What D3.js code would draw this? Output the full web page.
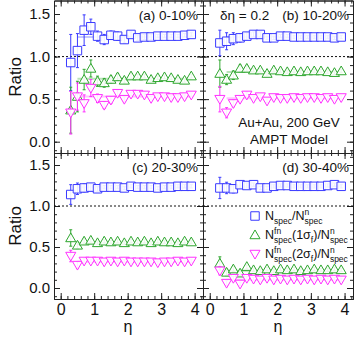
<!DOCTYPE html>
<html>
<head>
<meta charset="utf-8">
<script src="https://cdn.jsdelivr.net/npm/d3@7"></script>
<style>
  body { margin: 0; background: #fff; }
  svg { display: block; font-family: "Liberation Sans", Arial, Helvetica, sans-serif; }
</style>
</head>
<body>
<svg id="chart" width="357" height="341"></svg>
<script>
// eta bins (bin width 0.2)
var eta = [0.3, 0.5, 0.7, 0.9, 1.1, 1.3, 1.5, 1.7, 1.9, 2.1, 2.3, 2.5, 2.7, 2.9, 3.1, 3.3, 3.5, 3.7, 3.9];

// (a) 0-10%
var aSq    = [0.93, 1.07, 1.31, 1.35, 1.24, 1.20, 1.25, 1.24, 1.20, 1.26, 1.22, 1.23, 1.23, 1.24, 1.24, 1.24, 1.24, 1.25, 1.26];
var aSqErr = [0.33, 0.20, 0.18, 0.09, 0.06, 0.06, 0.05, 0.05, 0.04, 0.03, 0.03, 0.03, 0.03, 0.02, 0.02, 0.02, 0.02, 0.02, 0.02];
var aUp    = [0.37, 0.53, 0.73, 0.86, 0.71, 0.69, 0.73, 0.76, 0.72, 0.77, 0.77, 0.77, 0.73, 0.75, 0.76, 0.75, 0.73, 0.72, 0.77];
var aUpErr = [0.27, 0.18, 0.12, 0.10, 0.06, 0.05, 0.04, 0.04, 0.03, 0.03, 0.02, 0.02, 0.02, 0.02, 0.02, 0.02, 0.02, 0.02, 0.02];
var aDn    = [0.34, 0.53, 0.45, 0.63, 0.51, 0.43, 0.49, 0.57, 0.50, 0.56, 0.56, 0.55, 0.51, 0.53, 0.53, 0.52, 0.52, 0.53, 0.55];
var aDnErr = [0.25, 0.16, 0.10, 0.10, 0.05, 0.04, 0.04, 0.03, 0.03, 0.02, 0.02, 0.02, 0.02, 0.02, 0.02, 0.02, 0.02, 0.02, 0.02];

// (b) 10-20%
var bSq    = [1.16, 1.18, 1.21, 1.22, 1.24, 1.26, 1.26, 1.22, 1.22, 1.24, 1.24, 1.23, 1.23, 1.23, 1.23, 1.23, 1.23, 1.22, 1.23];
var bSqErr = [0.15, 0.10, 0.07, 0.05, 0.04, 0.03, 0.03, 0.02, 0.02, 0.02, 0.02, 0.02, 0.02, 0.02, 0.02, 0.02, 0.02, 0.02, 0.02];
var bUp    = [0.80, 0.73, 0.78, 0.86, 0.86, 0.84, 0.84, 0.80, 0.84, 0.83, 0.82, 0.83, 0.82, 0.83, 0.83, 0.83, 0.82, 0.81, 0.83];
var bUpErr = [0.16, 0.06, 0.05, 0.04, 0.03, 0.02, 0.02, 0.02, 0.02, 0.02, 0.02, 0.02, 0.02, 0.02, 0.02, 0.02, 0.02, 0.02, 0.02];
var bDn    = [0.50, 0.34, 0.45, 0.50, 0.55, 0.51, 0.53, 0.48, 0.52, 0.51, 0.51, 0.52, 0.51, 0.52, 0.52, 0.51, 0.52, 0.50, 0.52];
var bDnErr = [0.15, 0.06, 0.04, 0.03, 0.03, 0.02, 0.02, 0.02, 0.02, 0.02, 0.02, 0.02, 0.02, 0.02, 0.02, 0.02, 0.02, 0.02, 0.02];

// (c) 20-30%
var cSq    = [1.14, 1.21, 1.22, 1.23, 1.21, 1.23, 1.23, 1.23, 1.22, 1.24, 1.23, 1.23, 1.23, 1.22, 1.23, 1.23, 1.24, 1.24, 1.24];
var cSqErr = [0.12, 0.07, 0.05, 0.04, 0.03, 0.02, 0.02, 0.02, 0.02, 0.02, 0.02, 0.02, 0.02, 0.02, 0.02, 0.02, 0.02, 0.02, 0.02];
var cUp    = [0.61, 0.52, 0.57, 0.58, 0.55, 0.57, 0.56, 0.57, 0.55, 0.57, 0.56, 0.57, 0.55, 0.57, 0.56, 0.56, 0.55, 0.57, 0.56];
var cUpErr = [0.10, 0.04, 0.03, 0.02, 0.02, 0.02, 0.02, 0.02, 0.02, 0.02, 0.02, 0.02, 0.02, 0.02, 0.02, 0.02, 0.02, 0.02, 0.02];
var cDn    = [0.39, 0.28, 0.33, 0.33, 0.33, 0.32, 0.33, 0.32, 0.33, 0.32, 0.32, 0.32, 0.32, 0.31, 0.32, 0.32, 0.33, 0.32, 0.33];
var cDnErr = [0.07, 0.04, 0.03, 0.02, 0.02, 0.02, 0.02, 0.02, 0.02, 0.02, 0.02, 0.02, 0.02, 0.02, 0.02, 0.02, 0.02, 0.02, 0.02];

// (d) 30-40%
var dSq    = [1.22, 1.22, 1.21, 1.26, 1.25, 1.26, 1.22, 1.22, 1.24, 1.25, 1.25, 1.24, 1.24, 1.24, 1.24, 1.24, 1.25, 1.26, 1.24];
var dSqErr = [0.13, 0.07, 0.05, 0.04, 0.03, 0.02, 0.02, 0.02, 0.02, 0.02, 0.02, 0.02, 0.02, 0.02, 0.02, 0.02, 0.02, 0.02, 0.02];
var dUp    = [0.30, 0.19, 0.23, 0.18, 0.26, 0.22, 0.21, 0.23, 0.21, 0.23, 0.22, 0.23, 0.21, 0.22, 0.23, 0.22, 0.22, 0.23, 0.22];
var dUpErr = [0.08, 0.04, 0.03, 0.03, 0.02, 0.02, 0.02, 0.02, 0.02, 0.02, 0.02, 0.02, 0.02, 0.02, 0.02, 0.02, 0.02, 0.02, 0.02];
var dDn    = [0.21, 0.06, 0.12, 0.05, 0.12, 0.11, 0.10, 0.12, 0.10, 0.11, 0.10, 0.11, 0.10, 0.11, 0.10, 0.11, 0.10, 0.11, 0.10];
var dDnErr = [0.05, 0.03, 0.02, 0.02, 0.02, 0.02, 0.02, 0.02, 0.02, 0.02, 0.02, 0.02, 0.02, 0.02, 0.02, 0.02, 0.02, 0.02, 0.02];

// smooth guide levels drawn faintly behind each series (square, up, down)
var levelA = [1.23, 0.74, 0.53];
var levelB = [1.23, 0.82, 0.51];
var levelC = [1.23, 0.55, 0.32];
var levelD = [1.24, 0.21, 0.10];

var xTicks = [0, 1, 2, 3, 4];
var yTicks = [0, 0.5, 1.0, 1.5];

var colSq = "#3a3aff", colUp = "#2ea62e", colDn = "#ff30ff";
var faint = ["#c4c7ff", "#b8e2b8", "#ffc0ff"];

var svg = d3.select("#chart");

var panels = [
  {sq: aSq, sqE: aSqErr, up: aUp, upE: aUpErr, dn: aDn, dnE: aDnErr, lev: levelA,
   x0: 54, x1: 203, y0: 141.7, y15: 14, top: 0.5, bot: 153, left: true, bottom: false},
  {sq: bSq, sqE: bSqErr, up: bUp, upE: bUpErr, dn: bDn, dnE: bDnErr, lev: levelB,
   x0: 203, x1: 353, y0: 141.7, y15: 14, top: 0.5, bot: 153, left: false, bottom: false},
  {sq: cSq, sqE: cSqErr, up: cUp, upE: cUpErr, dn: cDn, dnE: cDnErr, lev: levelC,
   x0: 54, x1: 203, y0: 288, y15: 165, top: 153, bot: 299, left: true, bottom: true},
  {sq: dSq, sqE: dSqErr, up: dUp, upE: dUpErr, dn: dDn, dnE: dDnErr, lev: levelD,
   x0: 203, x1: 353, y0: 288, y15: 165, top: 153, bot: 299, left: false, bottom: true}
];

var sqShape = d3.symbol().type(d3.symbolSquare).size(72);
var triShape = d3.symbol().type(d3.symbolTriangle).size(44);

function styleAxis(sel) {
  sel.select(".domain").attr("stroke", "#222").attr("stroke-width", 1);
  sel.selectAll(".tick line").attr("stroke", "#222").attr("stroke-width", 1);
  sel.selectAll("text").attr("fill", "#111").attr("font-size", 15)
    .attr("font-family", "Liberation Sans, Arial, sans-serif");
}

panels.forEach(function(p) {
  var x = d3.scaleLinear().domain([-0.2, 4.25]).range([p.x0, p.x1]);
  var y = d3.scaleLinear().domain([0, 1.5]).range([p.y0, p.y15]);
  var lo = y.invert(p.bot), hi = y.invert(p.top);
  y.domain([lo, hi]).range([p.bot, p.top]);

  var g = svg.append("g");

  // axes with inward ticks
  var minorY = d3.range(-1, 17).map(function(i) { return i / 10; })
    .filter(function(v) { return v >= lo && v <= hi; });
  var minorX = d3.range(0, 22).map(function(i) { return i / 5; })
    .filter(function(v) { return v <= 4.25; });

  g.append("g").attr("transform", "translate(" + p.x0 + ",0)")
    .call(d3.axisLeft(y).tickValues(yTicks).tickSizeInner(-6).tickSizeOuter(0).tickPadding(4)
      .tickFormat(p.left ? d3.format(".1f") : ""))
    .call(styleAxis);
  g.append("g").attr("transform", "translate(" + p.x0 + ",0)")
    .call(d3.axisLeft(y).tickValues(minorY).tickSizeInner(-3).tickSizeOuter(0).tickFormat(""))
    .call(styleAxis);
  g.append("g").attr("transform", "translate(" + p.x1 + ",0)")
    .call(d3.axisRight(y).tickValues(yTicks).tickSizeInner(-6).tickSizeOuter(0).tickFormat(""))
    .call(styleAxis);
  g.append("g").attr("transform", "translate(" + p.x1 + ",0)")
    .call(d3.axisRight(y).tickValues(minorY).tickSizeInner(-3).tickSizeOuter(0).tickFormat(""))
    .call(styleAxis);

  var axB = g.append("g").attr("transform", "translate(0," + p.bot + ")")
    .call(d3.axisBottom(x).tickValues(xTicks).tickSizeInner(-6).tickSizeOuter(0).tickPadding(5)
      .tickFormat(p.bottom ? d3.format("d") : ""))
    .call(styleAxis);
  axB.selectAll("text").attr("font-size", 16);
  g.append("g").attr("transform", "translate(0," + p.bot + ")")
    .call(d3.axisBottom(x).tickValues(minorX).tickSizeInner(-3).tickSizeOuter(0).tickFormat(""))
    .call(styleAxis);
  g.append("g").attr("transform", "translate(0," + p.top + ")")
    .call(d3.axisTop(x).tickValues(xTicks).tickSizeInner(-6).tickSizeOuter(0).tickFormat(""))
    .call(styleAxis);
  g.append("g").attr("transform", "translate(0," + p.top + ")")
    .call(d3.axisTop(x).tickValues(minorX).tickSizeInner(-3).tickSizeOuter(0).tickFormat(""))
    .call(styleAxis);

  // dotted unity line
  g.append("line")
    .attr("x1", p.x0).attr("x2", p.x1)
    .attr("y1", y(1)).attr("y2", y(1))
    .attr("stroke", "#111").attr("stroke-width", 1).attr("stroke-dasharray", "2,2");

  // faint guide lines
  p.lev.forEach(function(v, i) {
    g.append("line")
      .attr("x1", x(eta[1])).attr("x2", x(eta[eta.length - 1]))
      .attr("y1", y(v)).attr("y2", y(v))
      .attr("stroke", faint[i]).attr("stroke-width", 2);
  });

  var series = [
    {v: p.sq, e: p.sqE, c: colSq, shape: sqShape, rot: 0, dy: 0},
    {v: p.up, e: p.upE, c: colUp, shape: triShape, rot: 0, dy: 0.8},
    {v: p.dn, e: p.dnE, c: colDn, shape: triShape, rot: 180, dy: -0.8}
  ];

  series.forEach(function(s) {
    var pts = eta.map(function(t, i) { return {t: t, v: s.v[i], e: s.e[i]}; });
    var eb = g.append("g").attr("stroke", s.c).attr("stroke-width", 1);
    eb.selectAll("line.bar").data(pts).enter().append("line")
      .attr("x1", function(d) { return x(d.t); }).attr("x2", function(d) { return x(d.t); })
      .attr("y1", function(d) { return y(d.v - d.e); }).attr("y2", function(d) { return y(d.v + d.e); });
    eb.selectAll("line.capt").data(pts).enter().append("line")
      .attr("x1", function(d) { return x(d.t) - 1.5; }).attr("x2", function(d) { return x(d.t) + 1.5; })
      .attr("y1", function(d) { return y(d.v + d.e); }).attr("y2", function(d) { return y(d.v + d.e); });
    eb.selectAll("line.capb").data(pts).enter().append("line")
      .attr("x1", function(d) { return x(d.t) - 1.5; }).attr("x2", function(d) { return x(d.t) + 1.5; })
      .attr("y1", function(d) { return y(d.v - d.e); }).attr("y2", function(d) { return y(d.v - d.e); });
    g.selectAll(null).data(pts).enter().append("path")
      .attr("d", s.shape)
      .attr("transform", function(d) {
        return "translate(" + x(d.t) + "," + (y(d.v) + s.dy) + ") rotate(" + s.rot + ")";
      })
      .attr("fill", "#fff").attr("fill-opacity", 0.9)
      .attr("stroke", s.c).attr("stroke-width", 1);
  });
});

// axis titles
function txt(x, y, s, size, anchor) {
  return svg.append("text").attr("x", x).attr("y", y).attr("font-size", size)
    .attr("text-anchor", anchor || "start").attr("fill", "#111").text(s);
}
svg.append("text").attr("transform", "translate(21,77) rotate(-90)")
  .attr("text-anchor", "middle").attr("font-size", 17).attr("fill", "#111").text("Ratio");
svg.append("text").attr("transform", "translate(21,226) rotate(-90)")
  .attr("text-anchor", "middle").attr("font-size", 17).attr("fill", "#111").text("Ratio");
txt(128, 332, "η", 16, "middle");
txt(278, 332, "η", 16, "middle");

// panel labels
txt(198, 20, "(a) 0-10%", 13.5, "end");
txt(349, 20, "(b) 10-20%", 13.5, "end");
txt(198, 172, "(c) 20-30%", 13.5, "end");
txt(349, 172, "(d) 30-40%", 13.5, "end");
txt(220, 20, "δη = 0.2", 13.5, "start");
txt(289, 127, "Au+Au, 200 GeV", 13.5, "middle");
txt(289, 144, "AMPT Model", 13.5, "middle");

// legend
function richText(x, y, tokens) {
  var t = svg.append("text").attr("x", x).attr("y", y).attr("font-size", 12).attr("fill", "#111");
  var shift = 0;
  function span(s, size, dy, dx) {
    var ts = t.append("tspan").attr("font-size", size).attr("dy", dy).text(s);
    if (dx) ts.attr("dx", dx);
    return ts.node().getComputedTextLength();
  }
  tokens.forEach(function(k) {
    if (typeof k === "string") {
      span(k, 12.5, -shift, 0); shift = 0;
    } else {
      var wSup = 0;
      if (k.sup) { wSup = span(k.sup, 8.5, -5 - shift, 0); shift = -5; }
      var wSub = span(k.sub, 8.5, 4 - shift, k.sup ? -wSup : 0); shift = 4;
      if (wSup > wSub) { span("", 8.5, 0, wSup - wSub); }
    }
  });
}
var legendY = [216, 235, 254];
var legendCol = [colSq, colUp, colDn];
var legendShape = [sqShape, triShape, triShape];
var legendRot = [0, 0, 180];
var legendDy = [0, 0.8, -0.8];
legendY.forEach(function(ly, i) {
  svg.append("path").attr("d", legendShape[i])
    .attr("transform", "translate(255," + (ly + legendDy[i]) + ") rotate(" + legendRot[i] + ")")
    .attr("fill", "#fff").attr("stroke", legendCol[i]).attr("stroke-width", 1);
});
richText(265, 220, ["N", {sub: "spec"}, "/N", {sup: "n", sub: "spec"}]);
richText(265, 239, ["N", {sup: "fn", sub: "spec"}, "(1σ", {sub: "f"}, ")/N", {sup: "n", sub: "spec"}]);
richText(265, 258, ["N", {sup: "fn", sub: "spec"}, "(2σ", {sub: "f"}, ")/N", {sup: "n", sub: "spec"}]);
</script>
</body>
</html>
